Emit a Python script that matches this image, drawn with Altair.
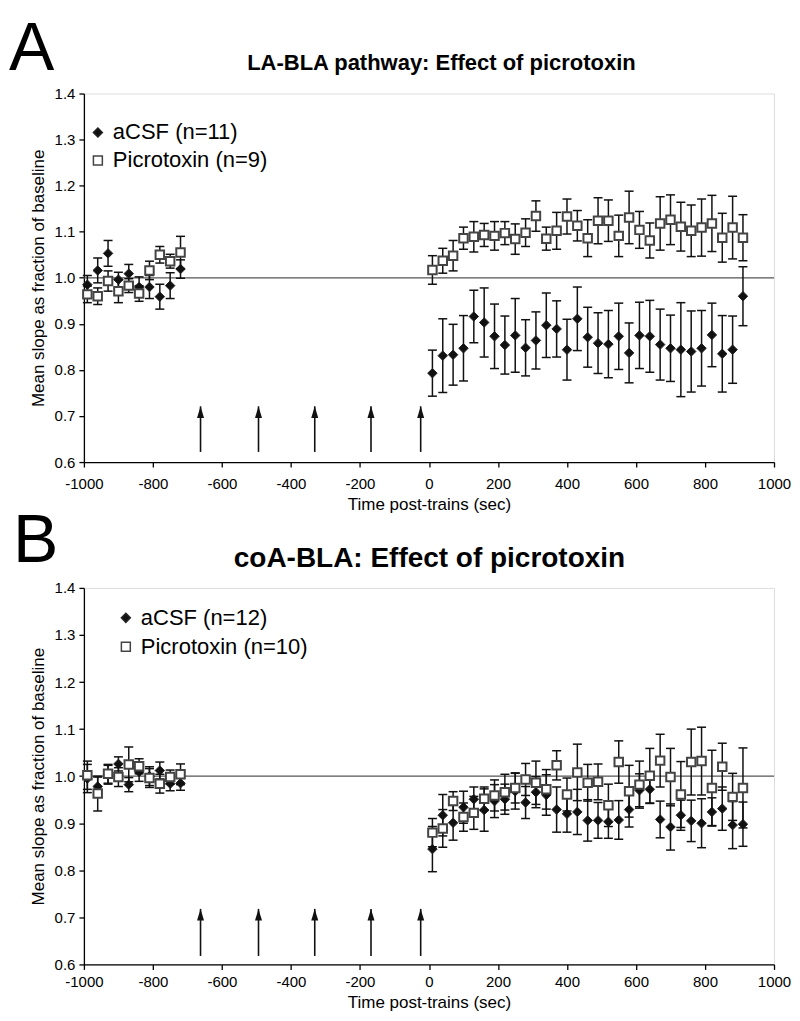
import altair as alt
import pandas as pd

# ---------------- data ----------------
times_pre = [-990, -960, -930, -900, -870, -840, -810, -780, -750, -720]
times_post = [10, 40, 70, 100, 130, 160, 190, 220, 250, 280, 310, 340, 370, 400, 430,
              460, 490, 520, 550, 580, 610, 640, 670, 700, 730, 760, 790, 820, 850, 880, 910]

# Panel A  (LA-BLA)
a_acsf_mean = [0.985, 1.016, 1.053, 0.996, 1.009, 0.980, 0.980, 0.959, 0.983, 1.019,
               0.793, 0.831, 0.833, 0.847, 0.916, 0.903, 0.873, 0.854, 0.875, 0.848,
               0.864, 0.897, 0.889, 0.844, 0.911, 0.871, 0.858, 0.856, 0.873, 0.837,
               0.875, 0.873, 0.855, 0.847, 0.844, 0.840, 0.847, 0.876, 0.835, 0.844, 0.960]
a_acsf_err = [0.020, 0.027, 0.028, 0.016, 0.020, 0.022, 0.025, 0.027, 0.028, 0.020,
              0.050, 0.080, 0.066, 0.071, 0.057, 0.075, 0.070, 0.063, 0.080, 0.061,
              0.062, 0.070, 0.061, 0.066, 0.069, 0.065, 0.066, 0.073, 0.072, 0.065,
              0.072, 0.078, 0.077, 0.072, 0.102, 0.088, 0.082, 0.069, 0.083, 0.073, 0.064]
a_pic_mean = [0.964, 0.960, 0.993, 0.971, 0.983, 0.966, 1.016, 1.050, 1.036, 1.055,
              1.017, 1.037, 1.048, 1.086, 1.089, 1.093, 1.091, 1.097, 1.084, 1.098,
              1.134, 1.085, 1.102, 1.133, 1.113, 1.086, 1.124, 1.124, 1.091, 1.131,
              1.104, 1.081, 1.118, 1.126, 1.111, 1.102, 1.109, 1.118, 1.087, 1.109, 1.087]
a_pic_err = [0.018, 0.018, 0.022, 0.025, 0.015, 0.017, 0.020, 0.018, 0.015, 0.035,
             0.031, 0.027, 0.033, 0.024, 0.033, 0.025, 0.031, 0.025, 0.033, 0.030,
             0.033, 0.025, 0.040, 0.038, 0.033, 0.040, 0.050, 0.045, 0.045, 0.057,
             0.040, 0.038, 0.058, 0.054, 0.053, 0.056, 0.062, 0.061, 0.053, 0.068, 0.050]

# Panel B  (coA-BLA)
b_acsf_mean = [0.995, 0.978, 1.003, 1.026, 0.982, 1.009, 1.000, 1.012, 0.984, 0.985,
               0.845, 0.917, 0.901, 0.934, 0.951, 0.928, 0.947, 0.951, 0.968, 0.944,
               0.966, 0.960, 0.929, 0.920, 0.924, 0.906, 0.906, 0.903, 0.907, 0.929,
               0.970, 0.972, 0.908, 0.892, 0.917, 0.905, 0.900, 0.924, 0.931, 0.896, 0.898]
b_acsf_err = [0.030, 0.020, 0.020, 0.015, 0.015, 0.020, 0.020, 0.018, 0.015, 0.015,
              0.048, 0.044, 0.037, 0.034, 0.026, 0.045, 0.035, 0.032, 0.038, 0.034,
              0.033, 0.043, 0.048, 0.039, 0.048, 0.044, 0.038, 0.035, 0.041, 0.037,
              0.035, 0.030, 0.039, 0.049, 0.032, 0.044, 0.052, 0.030, 0.046, 0.050, 0.047]
b_pic_mean = [1.002, 0.963, 1.005, 0.998, 1.025, 1.021, 0.996, 0.984, 0.998, 1.004,
              0.880, 0.889, 0.947, 0.913, 0.922, 0.952, 0.959, 0.966, 0.975, 0.993,
              0.986, 0.972, 1.023, 0.961, 1.008, 0.986, 0.988, 0.938, 1.030, 0.968,
              0.982, 1.001, 1.033, 0.998, 0.961, 1.030, 1.032, 0.975, 1.020, 0.956, 0.975]
b_pic_err = [0.030, 0.037, 0.020, 0.020, 0.037, 0.016, 0.020, 0.020, 0.015, 0.022,
             0.030, 0.040, 0.020, 0.030, 0.035, 0.025, 0.033, 0.038, 0.032, 0.034,
             0.046, 0.042, 0.031, 0.035, 0.060, 0.039, 0.038, 0.045, 0.045, 0.055,
             0.050, 0.058, 0.056, 0.061, 0.070, 0.070, 0.072, 0.080, 0.050, 0.050, 0.085]

# tetanic trains (arrows)
arrow_times = [-662, -494, -331, -168, -24]
a_arrow_base, a_arrow_tip = 0.622, 0.721
b_arrow_base, b_arrow_tip = 0.618, 0.718

x_ticks = [-1000, -800, -600, -400, -200, 0, 200, 400, 600, 800, 1000]
y_ticks = [0.6, 0.7, 0.8, 0.9, 1.0, 1.1, 1.2, 1.3, 1.4]

FONT = "Liberation Sans"
X_TITLE = "Time post-trains (sec)"
Y_TITLE = "Mean slope as fraction of baseline"
W = 691


def make_axis_x(pad):
    return alt.Axis(values=x_ticks, labelExpr="datum.value + ''", grid=False, tickSize=5,
                    tickColor="black", tickWidth=1.3, domainColor="black", domainWidth=1.3,
                    labelFont=FONT, labelFontSize=15, labelColor="black", labelPadding=pad,
                    labelFlush=False, labelOverlap=False, titleFont=FONT, titleFontSize=17,
                    titleFontWeight="normal", titleColor="black", titlePadding=5)


def make_axis_y():
    return alt.Axis(values=y_ticks, format=".1f", grid=False, tickSize=5, tickColor="black",
                    tickWidth=1.3, domainColor="black", domainWidth=1.3, labelFont=FONT,
                    labelFontSize=15, labelColor="black", labelPadding=4, labelFlush=False,
                    labelOverlap=False, titleFont=FONT, titleFontSize=17,
                    titleFontWeight="normal", titleColor="black", titlePadding=7)


def panel(letter, title, title_size, acsf_label, pic_label,
          acsf_mean, acsf_err, pic_mean, pic_err, arrow_base, arrow_tip,
          height, letter_x, letter_y, title_x, title_y, leg_x, leg_y, leg_rowpad, xpad):
    times = times_pre + times_post
    rows = []
    for t, m, e in zip(times, acsf_mean, acsf_err):
        rows.append({"t": t, "mean": m, "lo": m - e, "hi": m + e, "series": acsf_label})
    for t, m, e in zip(times, pic_mean, pic_err):
        rows.append({"t": t, "mean": m, "lo": m - e, "hi": m + e, "series": pic_label})
    df = pd.DataFrame(rows)
    df_acsf = df[df.series == acsf_label]
    df_pic = df[df.series == pic_label]

    xs = alt.Scale(domain=[-1000, 1000], nice=False)
    ys = alt.Scale(domain=[0.6, 1.4], nice=False, zero=False)

    def X():
        return alt.X("t:Q", scale=xs, axis=make_axis_x(xpad), title=X_TITLE)

    def Y(field):
        return alt.Y(f"{field}:Q", scale=ys, axis=make_axis_y(), title=Y_TITLE)

    domain = [acsf_label, pic_label]
    leg = alt.Legend(orient="none", legendX=leg_x, legendY=leg_y, title=None,
                     labelFont=FONT, labelFontSize=22, labelColor="black", labelLimit=500,
                     symbolSize=80, symbolStrokeWidth=1.5, symbolOpacity=1,
                     rowPadding=leg_rowpad, labelOffset=4, padding=0)
    shape_enc = alt.Shape("series:N", scale=alt.Scale(domain=domain, range=["diamond", "square"]), legend=leg)
    fill_enc = alt.Fill("series:N", scale=alt.Scale(domain=domain, range=["#111111", "#ffffff"]), legend=leg)
    stroke_enc = alt.Stroke("series:N", scale=alt.Scale(domain=domain, range=["#222222", "#444444"]), legend=leg)

    # reference line at 1.0
    hline = alt.Chart(pd.DataFrame({"v": [1.0]})).mark_rule(color="#555555", strokeWidth=1.2).encode(
        y=Y("v"))

    # arrows
    df_arrow = pd.DataFrame({"t": arrow_times, "base": [arrow_base] * len(arrow_times),
                             "tip": [arrow_tip] * len(arrow_times)})
    arrow_shaft = alt.Chart(df_arrow).mark_rule(color="#111111", strokeWidth=1.6).encode(
        x=X(), y=Y("base"), y2="tip:Q")
    arrow_head = alt.Chart(df_arrow).mark_point(
        shape="M0,0L0.6,2L-0.6,2Z", filled=True, color="#111111", opacity=1, size=137, strokeWidth=0
    ).encode(x=X(), y=Y("tip"))

    def err_layers(d):
        bar = alt.Chart(d).mark_rule(color="#111111", strokeWidth=1.5).encode(
            x=X(), y=Y("lo"), y2="hi:Q")
        cap_lo = alt.Chart(d).mark_tick(color="#111111", orient="horizontal", size=9,
                                        thickness=1.5, opacity=1).encode(x=X(), y=Y("lo"))
        cap_hi = alt.Chart(d).mark_tick(color="#111111", orient="horizontal", size=9,
                                        thickness=1.5, opacity=1).encode(x=X(), y=Y("hi"))
        return [bar, cap_lo, cap_hi]

    pts_acsf = alt.Chart(df_acsf).mark_point(filled=True, opacity=1, size=90, strokeWidth=1).encode(
        x=X(), y=Y("mean"), shape=shape_enc, fill=fill_enc, stroke=stroke_enc)
    pts_pic = alt.Chart(df_pic).mark_point(filled=True, opacity=1, size=72, strokeWidth=2).encode(
        x=X(), y=Y("mean"), shape=shape_enc, fill=fill_enc, stroke=stroke_enc)

    letter_txt = alt.Chart(pd.DataFrame({"s": [letter]})).mark_text(
        font=FONT, fontSize=68, align="left", baseline="alphabetic", color="black").encode(
        text="s:N", x=alt.value(letter_x), y=alt.value(letter_y))
    title_txt = alt.Chart(pd.DataFrame({"s": [title]})).mark_text(
        font=FONT, fontSize=title_size, fontWeight="bold", align="center", baseline="alphabetic",
        color="black").encode(text="s:N", x=alt.value(title_x), y=alt.value(title_y))

    layers = [hline, arrow_shaft, arrow_head] + err_layers(df_acsf) + [pts_acsf] + \
        err_layers(df_pic) + [pts_pic, letter_txt, title_txt]
    return alt.layer(*layers).properties(width=W, height=height)


pA = panel("A", "LA-BLA pathway: Effect of picrotoxin", 22, "aCSF (n=11)", "Picrotoxin (n=9)",
           a_acsf_mean, a_acsf_err, a_pic_mean, a_pic_err, a_arrow_base, a_arrow_tip,
           369, -75, -24, 358, -24, 3, 28, 6, 9)
pB = panel("B", "coA-BLA: Effect of picrotoxin", 28, "aCSF (n=12)", "Picrotoxin (n=10)",
           b_acsf_mean, b_acsf_err, b_pic_mean, b_pic_err, b_arrow_base, b_arrow_tip,
           377, -71, -26, 346, -21, 31, 19, 7, 5)

chart = alt.vconcat(pA, pB, spacing=126, bounds="flush").resolve_scale(
    shape="independent", fill="independent", stroke="independent"
).resolve_legend(
    shape="independent", fill="independent", stroke="independent"
).properties(
    padding={"left": 0, "top": 6, "right": 0, "bottom": 0}
).configure_view(stroke=None).configure(background="white")

chart.save("out.html", embed_options={"renderer": "svg", "actions": False})
